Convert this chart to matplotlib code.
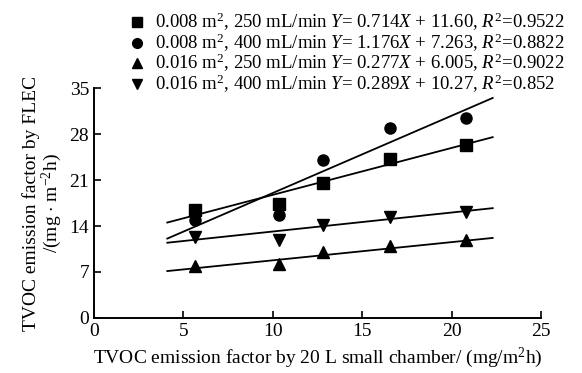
import matplotlib
matplotlib.use("Agg")
import numpy as np
import matplotlib.pyplot as plt

plt.rcParams['font.family'] = ['Liberation Serif', 'DejaVu Serif']
plt.rcParams['mathtext.fontset'] = 'custom'
plt.rcParams['mathtext.rm'] = 'Liberation Serif'
plt.rcParams['mathtext.it'] = 'Liberation Serif:italic'

# data
x_chamber = [5.65, 10.35, 12.8, 16.55, 20.8]
y_s008_250 = [16.4, 17.3, 20.5, 24.25, 26.4]
y_s008_400 = [14.9, 15.7, 24.0, 28.9, 30.4]
y_s016_250 = [7.95, 8.2, 10.0, 10.96, 11.9]
y_s016_400 = [12.4, 11.9, 14.1, 15.3, 16.2]

slopes = [0.714, 1.176, 0.277, 0.289]
intercepts = [11.60, 7.263, 6.005, 10.27]
fit_range = [4.1, 22.3]

labels = [
    r"0.008 m$^2$, 250 mL/min $Y$= 0.714$X$ + 11.60, $R^2$=0.9522",
    r"0.008 m$^2$, 400 mL/min $Y$= 1.176$X$ + 7.263, $R^2$=0.8822",
    r"0.016 m$^2$, 250 mL/min $Y$= 0.277$X$ + 6.005, $R^2$=0.9022",
    r"0.016 m$^2$, 400 mL/min $Y$= 0.289$X$ + 10.27, $R^2$=0.852",
]
markers = ['s', 'o', '^', 'v']
series = [y_s008_250, y_s008_400, y_s016_250, y_s016_400]

W, H = 582, 373
fig = plt.figure(figsize=(W / 100, H / 100), dpi=100)
ax = fig.add_axes([0.1615, 0.1475, 0.768, 0.6165])

for ys, m, k, b in zip(series, markers, slopes, intercepts):
    ax.plot(x_chamber, ys, linestyle='none', marker=m, color='black', markersize=8)
    xf = np.array(fit_range)
    ax.plot(xf, k * xf + b, color='black', linewidth=1.3)

ax.set_xlim(0, 25)
ax.set_ylim(0, 35)
ax.set_xticks([0, 5, 10, 15, 20, 25])
ax.set_yticks([0, 7, 14, 21, 28, 35])
ax.spines['top'].set_visible(False)
ax.spines['right'].set_visible(False)
for s in ['left', 'bottom']:
    ax.spines[s].set_linewidth(1.4)
ax.tick_params(direction='in', length=5, width=1.2, labelsize=14)

ax.set_xlabel(r"TVOC emission factor by 20 L small chamber/ (mg/m$^2$h)", fontsize=14)
ax.set_ylabel("TVOC emission factor by FLEC\n" + r"/(mg $\cdot$ m$^{-2}$h)", fontsize=14,
              linespacing=0.95)

# legend drawn by hand to get the tight row spacing of the original
for i, (m, lab) in enumerate(zip(markers, labels)):
    yrow = 1 - (22 + 20.5 * i) / H
    fig.add_artist(plt.Line2D([137 / W], [yrow], marker=m, color='black',
                              markersize=7, linestyle='none'))
    fig.text(155 / W, yrow, lab, fontsize=13.5, va='center', ha='left')

fig.savefig("out.png", dpi=100)
